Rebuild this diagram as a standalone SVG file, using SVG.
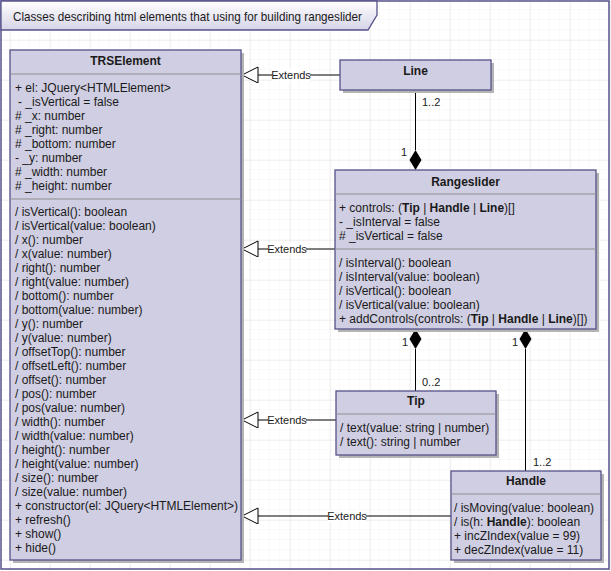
<svg xmlns="http://www.w3.org/2000/svg" width="611" height="571" viewBox="0 0 611 571">
<defs>
<pattern id="minor" x="10" y="0" width="10" height="10" patternUnits="userSpaceOnUse">
<path d="M10 0V10M0 10H10" fill="none" stroke="#f3f3f3" stroke-width="1"/>
</pattern>
<pattern id="major" x="10" y="0" width="40" height="40" patternUnits="userSpaceOnUse">
<path d="M0 0V40M0 0H40" fill="none" stroke="#e6e6e6" stroke-width="1"/>
</pattern>
<linearGradient id="tab" x1="0" y1="0" x2="0" y2="1">
<stop offset="0" stop-color="#ffffff"/>
<stop offset="1" stop-color="#d6d4e8"/>
</linearGradient>
<marker id="ext" markerWidth="18" markerHeight="18" refX="1" refY="8" orient="auto" markerUnits="userSpaceOnUse">
<path d="M1 0L17 8L1 16Z" fill="#ffffff" stroke="#000" stroke-width="1"/>
</marker>
</defs>
<style>
.box{fill:#d0cee2;stroke:#55528a;stroke-width:1.3}
.sh{fill:#b4b4b4}
.div{stroke:#8f8f8f;stroke-width:1}
text{font-family:"Liberation Sans",Arial,sans-serif;font-size:12px;fill:#1a1a1a}
.t{font-weight:bold;text-anchor:middle}
.b{font-weight:bold}
.e{stroke:#000;stroke-width:1;fill:none}
.lbl{font-size:11px}
.lb{fill:#ffffff}
</style>
<rect x="0" y="0" width="611" height="571" fill="#ffffff"/>
<rect x="0" y="0" width="611" height="571" fill="url(#minor)"/>
<rect x="0" y="0" width="611" height="571" fill="url(#major)"/>
<rect x="1" y="1" width="608" height="568" fill="none" stroke="#55528a" stroke-width="1.5"/>
<g id="title">
<polygon points="1,1 377,1 377,15 368,30 1,30" fill="url(#tab)" stroke="#55528a" stroke-width="1.3"/>
<text x="13" y="21" textLength="349" lengthAdjust="spacingAndGlyphs" style="font-size:13px">Classes describing html elements that using for building rangeslider</text>
</g>
<g id="connectors">
<path class="e" d="M340 75H258" marker-end="url(#ext)"/>
<path class="e" d="M335 249H258" marker-end="url(#ext)"/>
<path class="e" d="M336 420H258" marker-end="url(#ext)"/>
<path class="e" d="M451 516H258" marker-end="url(#ext)"/>
<rect class="lb" x="272" y="69" width="38" height="12"/>
<text class="lbl" x="291" y="79" text-anchor="middle">Extends</text>
<rect class="lb" x="268" y="243" width="38" height="12"/>
<text class="lbl" x="287" y="253" text-anchor="middle">Extends</text>
<rect class="lb" x="268" y="414" width="38" height="12"/>
<text class="lbl" x="287" y="424" text-anchor="middle">Extends</text>
<rect class="lb" x="328" y="510" width="38" height="12"/>
<text class="lbl" x="347" y="520" text-anchor="middle">Extends</text>
<path class="e" d="M415.5 90V150"/>
<path d="M415.5 150L421.5 160L415.5 170L409.5 160Z" fill="#000"/>
<text class="lbl" x="407" y="156" text-anchor="end">1</text>
<text class="lbl" x="422" y="106">1..2</text>
<path class="e" d="M415.5 349V391"/>
<path d="M415.5 329L421.5 339L415.5 349L409.5 339Z" fill="#000"/>
<text class="lbl" x="408" y="346" text-anchor="end">1</text>
<text class="lbl" x="422" y="386">0..2</text>
<path class="e" d="M525.5 349V471"/>
<path d="M525.5 329L531.5 339L525.5 349L519.5 339Z" fill="#000"/>
<text class="lbl" x="518" y="346" text-anchor="end">1</text>
<text class="lbl" x="533" y="466">1..2</text>
</g>
<g id="TRSElement">
<rect class="sh" x="13" y="53" width="231" height="510"/>
<rect class="box" x="10" y="50" width="231" height="510"/>
<line class="div" x1="10" y1="74" x2="241" y2="74"/>
<line class="div" x1="10" y1="199" x2="241" y2="199"/>
<text class="t" x="125.5" y="65">TRSElement</text>
<text x="15" y="92">+ el: JQuery&lt;HTMLElement&gt;</text>
<text x="18" y="106">- _isVertical = false</text>
<text x="15" y="120"># _x: number</text>
<text x="15" y="134"># _right: number</text>
<text x="15" y="148"># _bottom: number</text>
<text x="15" y="162">- _y: number</text>
<text x="15" y="176"># _width: number</text>
<text x="15" y="190"># _height: number</text>
<text x="15" y="216">/ isVertical(): boolean</text>
<text x="15" y="230">/ isVertical(value: boolean)</text>
<text x="15" y="244">/ x(): number</text>
<text x="15" y="258">/ x(value: number)</text>
<text x="15" y="272">/ right(): number</text>
<text x="15" y="286">/ right(value: number)</text>
<text x="15" y="300">/ bottom(): number</text>
<text x="15" y="314">/ bottom(value: number)</text>
<text x="15" y="328">/ y(): number</text>
<text x="15" y="342">/ y(value: number)</text>
<text x="15" y="356">/ offsetTop(): number</text>
<text x="15" y="370">/ offsetLeft(): number</text>
<text x="15" y="384">/ offset(): number</text>
<text x="15" y="398">/ pos(): number</text>
<text x="15" y="412">/ pos(value: number)</text>
<text x="15" y="426">/ width(): number</text>
<text x="15" y="440">/ width(value: number)</text>
<text x="15" y="454">/ height(): number</text>
<text x="15" y="468">/ height(value: number)</text>
<text x="15" y="482">/ size(): number</text>
<text x="15" y="496">/ size(value: number)</text>
<text x="15" y="510">+ constructor(el: JQuery&lt;HTMLElement&gt;)</text>
<text x="15" y="524">+ refresh()</text>
<text x="15" y="538">+ show()</text>
<text x="15" y="552">+ hide()</text>
</g>
<g id="Line">
<rect class="sh" x="343" y="63" width="151" height="30"/>
<rect class="box" x="340" y="60" width="151" height="30"/>
<text class="t" x="415.5" y="75">Line</text>
</g>
<g id="Rangeslider">
<rect class="sh" x="338" y="173" width="261" height="159"/>
<rect class="box" x="335" y="170" width="261" height="159"/>
<line class="div" x1="335" y1="194" x2="596" y2="194"/>
<line class="div" x1="335" y1="249" x2="596" y2="249"/>
<text class="t" x="465.5" y="186">Rangeslider</text>
<text x="339" y="212">+ controls: (<tspan class="b">Tip</tspan> | <tspan class="b">Handle</tspan> | <tspan class="b">Line</tspan>)[]</text>
<text x="339" y="226">- _isInterval = false</text>
<text x="339" y="240"># _isVertical = false</text>
<text x="339" y="267">/ isInterval(): boolean</text>
<text x="339" y="281">/ isInterval(value: boolean)</text>
<text x="339" y="295">/ isVertical(): boolean</text>
<text x="339" y="309">/ isVertical(value: boolean)</text>
<text x="339" y="323">+ addControls(controls: (<tspan class="b">Tip</tspan> | <tspan class="b">Handle</tspan> | <tspan class="b">Line</tspan>)[])</text>
</g>
<g id="Tip">
<rect class="sh" x="339" y="394" width="160" height="64"/>
<rect class="box" x="336" y="391" width="160" height="64"/>
<line class="div" x1="336" y1="414" x2="496" y2="414"/>
<text class="t" x="416" y="405">Tip</text>
<text x="340" y="432">/ text(value: string | number)</text>
<text x="340" y="446">/ text(): string | number</text>
</g>
<g id="Handle">
<rect class="sh" x="454" y="474" width="150" height="89"/>
<rect class="box" x="451" y="471" width="150" height="89"/>
<line class="div" x1="451" y1="494" x2="601" y2="494"/>
<text class="t" x="526" y="485">Handle</text>
<text x="454" y="512">/ isMoving(value: boolean)</text>
<text x="454" y="526">/ is(h: <tspan class="b">Handle</tspan>): boolean</text>
<text x="454" y="540">+ incZIndex(value = 99)</text>
<text x="454" y="554">+ decZIndex(value = 11)</text>
</g>
</svg>
